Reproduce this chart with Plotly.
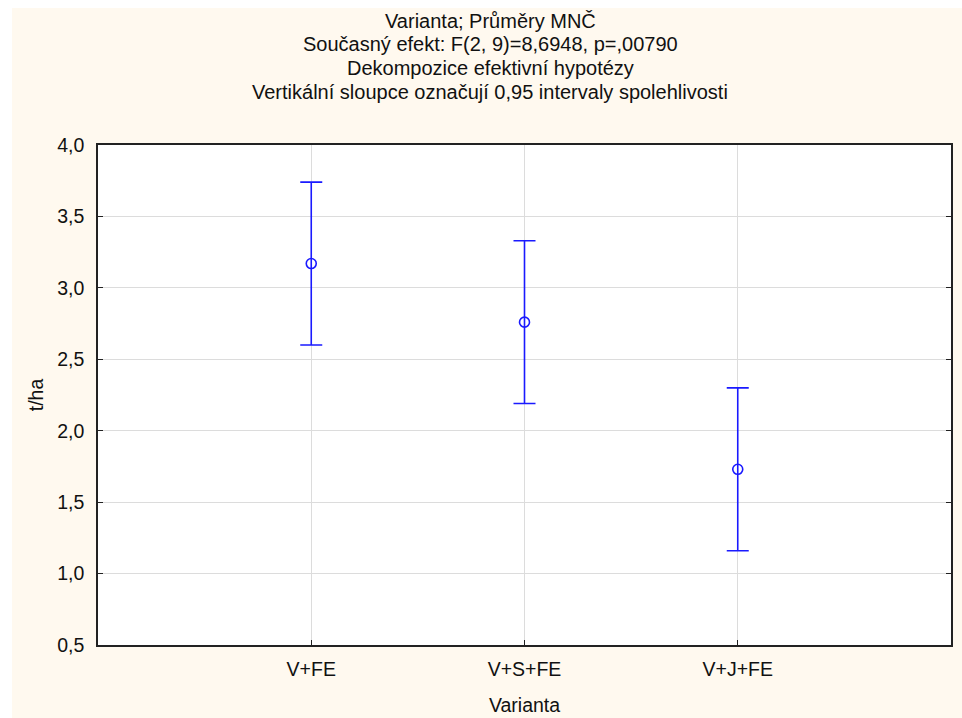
import plotly.graph_objects as go

categories = ["V+FE", "V+S+FE", "V+J+FE"]
means = [3.17, 2.76, 1.73]
upper = [3.74, 3.33, 2.30]
lower = [2.60, 2.19, 1.16]
title_lines = [
    "Varianta; Průměry MNČ",
    "Současný efekt: F(2, 9)=8,6948, p=,00790",
    "Dekompozice efektivní hypotézy",
    "Vertikální sloupce označují 0,95 intervaly spolehlivosti",
]
y_ticks = [0.5, 1.0, 1.5, 2.0, 2.5, 3.0, 3.5, 4.0]

plus = [u - m for u, m in zip(upper, means)]
minus = [m - l for m, l in zip(means, lower)]

BLUE = "#1a1aff"
CREAM = "#fff9ef"
FONT = "Liberation Sans, Arial, sans-serif"
TXT = "#111111"

fig = go.Figure()
fig.add_trace(go.Scatter(
    x=categories, y=means, mode="markers",
    marker=dict(symbol="circle-open", size=10, color=BLUE, line=dict(width=1.6, color=BLUE)),
    error_y=dict(type="data", symmetric=False, array=plus, arrayminus=minus,
                 color=BLUE, thickness=1.6, width=11),
    showlegend=False, hoverinfo="skip",
))
fig.add_trace(go.Scatter(
    x=categories, y=means, mode="markers", marker=dict(opacity=0),
    yaxis="y2", showlegend=False, hoverinfo="skip",
))

W, H = 962, 718
L, R, T, B = 98, 11, 145, 73
pw = W - L - R
ph = H - T - B

annotations = []
for i, line in enumerate(title_lines):
    ypix = 21 + i * 23.5
    annotations.append(dict(
        text=line, xref="paper", yref="paper",
        x=(490 - L) / pw, y=(H - B - ypix) / ph,
        showarrow=False, xanchor="center", yanchor="middle",
        font=dict(family=FONT, size=20, color=TXT),
    ))

fig.update_layout(
    width=W, height=H,
    margin=dict(l=L, r=R, t=T, b=B, pad=0),
    paper_bgcolor=CREAM, plot_bgcolor="white",
    separators=", ",
    font=dict(family=FONT, size=19.5, color=TXT),
    annotations=annotations,
    xaxis=dict(
        type="category", range=[-1, 3], automargin=False,
        showline=True, linecolor="#222222", linewidth=1.5, mirror=True,
        ticks="inside", ticklen=5, tickcolor="#222222",
        ticklabelstandoff=6,
        showgrid=True, gridcolor="#dcdcdc", gridwidth=1,
        title=dict(text="Varianta", font=dict(size=19.5), standoff=19),
        tickfont=dict(size=19.5),
        zeroline=False,
    ),
    yaxis=dict(
        range=[0.5, 4.0], tickvals=y_ticks, tickformat=".1f", automargin=False,
        showline=True, linecolor="#222222", linewidth=1.5, mirror=True,
        ticks="inside", ticklen=5, tickcolor="#222222",
        ticklabelstandoff=8,
        showgrid=True, gridcolor="#dcdcdc", gridwidth=1,
        title=dict(text="t/ha", font=dict(size=19.5), standoff=8),
        tickfont=dict(size=19.5),
        zeroline=False,
    ),
    yaxis2=dict(
        overlaying="y", side="right", range=[0.5, 4.0], tickvals=y_ticks,
        automargin=False,
        ticks="inside", ticklen=5, tickcolor="#222222",
        showticklabels=False, showgrid=False, showline=False, zeroline=False,
    ),
    shapes=[
        dict(type="rect", xref="paper", yref="paper", layer="above",
             x0=-L / pw, x1=(12 - L) / pw, y0=-B / ph, y1=(H - B) / ph,
             fillcolor="white", line=dict(width=0)),
        dict(type="rect", xref="paper", yref="paper", layer="above",
             x0=-L / pw, x1=(W - L) / pw, y0=(H - B - 8) / ph, y1=(H - B) / ph,
             fillcolor="white", line=dict(width=0)),
    ],
)

fig.write_html("out.html")
